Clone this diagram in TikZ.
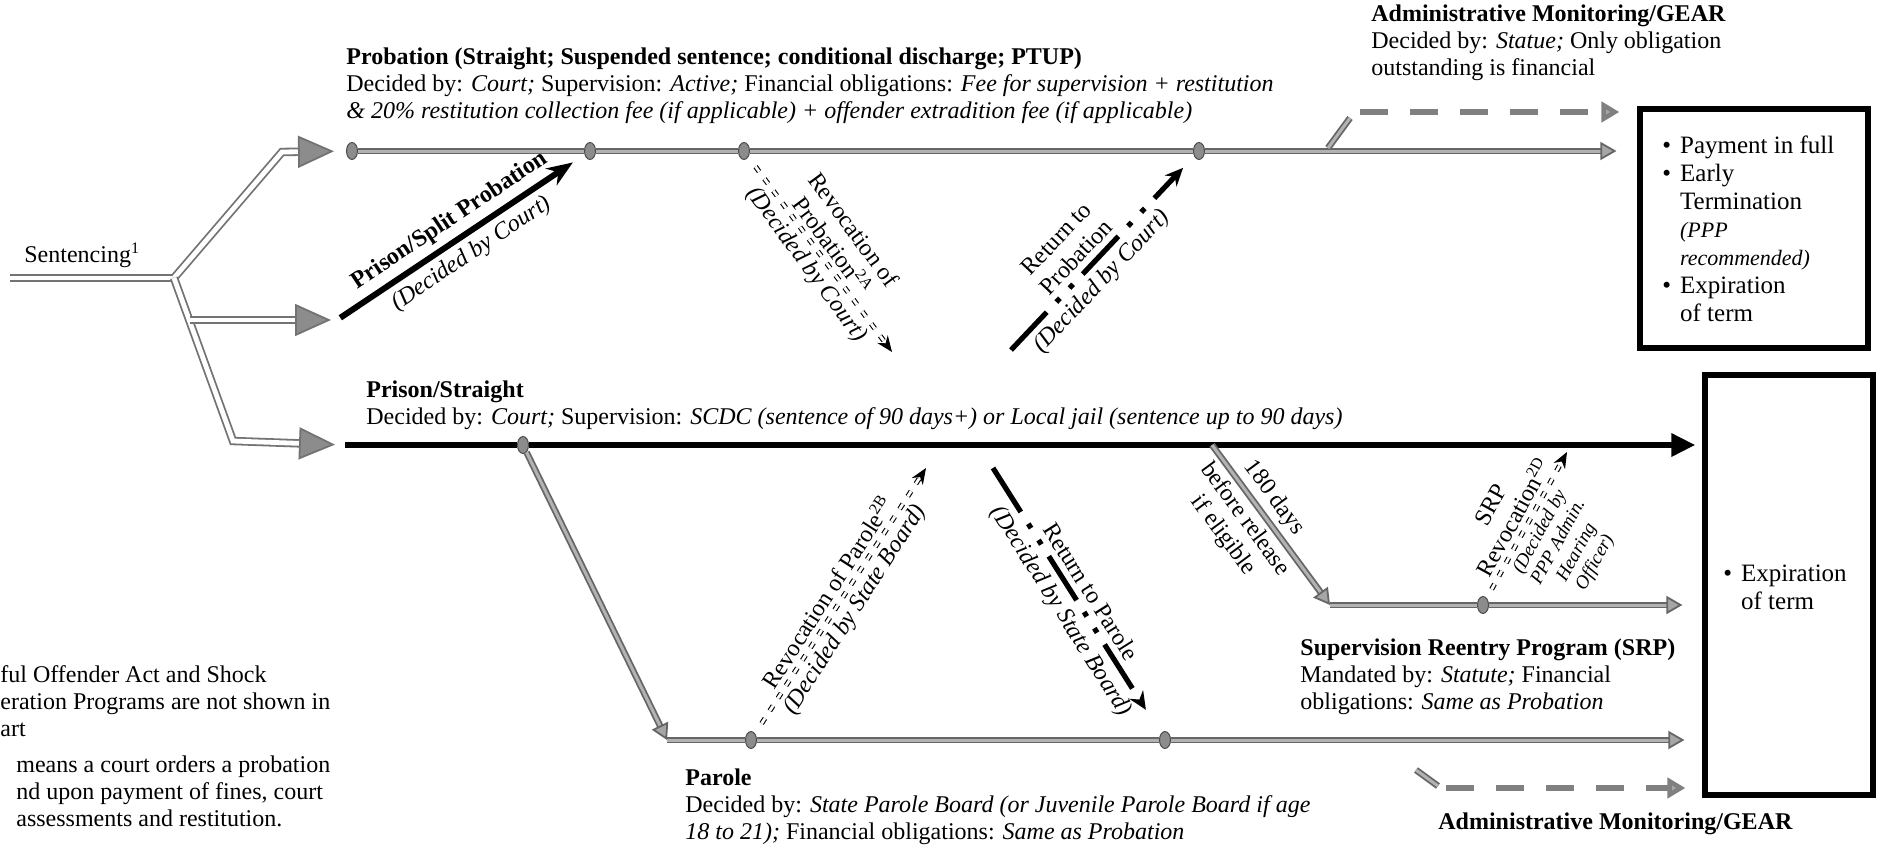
\documentclass[tikz,border=0pt]{standalone}
\usepackage{fontspec}
\setmainfont{Liberation Serif}
\usetikzlibrary{arrows.meta, shapes.geometric, fit}

\begin{document}
\begin{tikzpicture}[
    x=0.5pt, y=-0.5pt,
    font=\fontsize{12}{13.5}\selectfont,
    feed/.style     ={draw=black!55, line width=0.9pt, double=white, double distance=2.4pt},
    feedtip/.style  ={feed, -{Triangle[length=18pt, width=16pt, fill=black!45]}},
    track/.style    ={draw=black!60, line width=0.9pt, double=black!30, double distance=1.5pt},
    tracktip/.style ={track, -{Triangle[length=8pt, width=9pt, fill=black!35]}},
    event/.style    ={ellipse, draw=black!70, fill=black!45, line width=0.5pt,
                      inner sep=0pt, minimum width=5.5pt, minimum height=8.5pt},
    prisonln/.style ={line width=3.3pt, -{Triangle[length=12pt, width=11pt]}},
    court/.style    ={line width=3pt, -{Stealth[length=13pt, width=10pt]}},
    revoke/.style   ={draw, line width=0.55pt, double distance=1.4pt,
                      dash pattern=on 3pt off 4.5pt, -{Stealth[length=8pt, width=6.5pt]}},
    giveback/.style ={line width=2.6pt, dash pattern=on 26pt off 7pt on 2.6pt off 7pt on 2.6pt off 7pt,
                      -{Stealth[length=9pt, width=8pt]}},
    admin/.style    ={draw=black!50, line width=3.4pt, dash pattern=on 14pt off 11pt,
                      -{Triangle[length=9pt, width=10pt, fill=black!35]}},
    endbox/.style   ={draw, line width=2.6pt, inner sep=0pt},
    blurb/.style    ={anchor=north west, align=left, inner sep=0pt},
    tag/.style      ={align=center, inner sep=3pt},
    small/.style    ={font=\fontsize{9.5}{10.5}\selectfont\itshape}
]
\useasboundingbox (0,0) rectangle (1881,851);

% event points on the tracks
\node[event] (p1) at (352,151) {};
\node[event] (p2) at (590,151) {};
\node[event] (p3) at (744,151) {};
\node[event] (p4) at (1199,151) {};
\node[event] (s1) at (523,445) {};
\node[event] (r1) at (751,740) {};
\node[event] (r2) at (1165,740) {};
\node[event] (q1) at (1483,605) {};

% end boxes
\node[endbox, fit={(1640,109) (1868,348)}] (done1) {};
\node[endbox, fit={(1705,375) (1873,795)}] (done2) {};

\node[blurb, font=\fontsize{12.5}{14}\selectfont] (doneTxt1) at (1662,133)
  {\begin{tabular}{@{}l@{\hspace{4.5pt}}l@{}}
   \textbullet & Payment in full\\
   \textbullet & Early\\
               & Termination\\
               & {\fontsize{11}{13}\selectfont\itshape (PPP}\\
               & {\fontsize{11}{13}\selectfont\itshape recommended)}\\
   \textbullet & Expiration\\
               & of term
   \end{tabular}};
\node[blurb, font=\fontsize{12.5}{14}\selectfont] (doneTxt2) at (1723,561)
  {\begin{tabular}{@{}l@{\hspace{4.5pt}}l@{}}
   \textbullet & Expiration\\
               & of term
   \end{tabular}};

% texts
\node[anchor=west, inner sep=0pt] (sent) at (24,255) {Sentencing\textsuperscript{1}};
\node[blurb] (probHead) at (346,47)
  {\textbf{Probation (Straight; Suspended sentence; conditional discharge; PTUP)}\\
   Decided by: \textit{Court;} Supervision: \textit{Active;} Financial obligations: \textit{Fee for supervision + restitution}\\
   \textit{\& 20\% restitution collection fee (if applicable) + offender extradition fee (if applicable)}};
\node[blurb] (adminTop) at (1371,4)
  {\textbf{Administrative Monitoring/GEAR}\\
   Decided by: \textit{Statue;} Only obligation\\
   outstanding is financial};
\node[blurb] (prisonHead) at (366,380)
  {\textbf{Prison/Straight}\\
   Decided by: \textit{Court;} Supervision: \textit{SCDC (sentence of 90 days+) or Local jail (sentence up to 90 days)}};
\node[blurb] (paroleHead) at (685,768)
  {\textbf{Parole}\\
   Decided by: \textit{State Parole Board (or Juvenile Parole Board if age}\\
   \textit{18 to 21);} Financial obligations: \textit{Same as Probation}};
\node[blurb] (srpHead) at (1300,638)
  {\textbf{Supervision Reentry Program (SRP)}\\
   Mandated by: \textit{Statute;} Financial\\
   obligations: \textit{Same as Probation}};
\node[anchor=west, inner sep=0pt] (adminBot) at (1438,824) {\textbf{Administrative Monitoring/GEAR}};
\node[blurb] (footA) at (0,665)
  {ful Offender Act and Shock\\
   eration Programs are not shown in\\
   art};
\node[blurb] (footB) at (16,755)
  {means a court orders a probation\\
   nd upon payment of fines, court\\
   assessments and restitution.};

% free ends
\coordinate (sentL) at (10,278);
\coordinate (fork) at (174,278);
\coordinate (upBend) at (282,152);
\coordinate (lowBend) at (233,441);
\coordinate (midOut) at (190,320);
\coordinate (splitL) at (337,320);
\coordinate (prisonL) at (345,445);
\coordinate (paroleL) at (667,740);
\coordinate (relL) at (1212,445);
\coordinate (srpL) at (1330,605);
\coordinate (adm1) at (1328,148);
\coordinate (adm1b) at (1350,118);
\coordinate (adm1c) at (1360,112);
\coordinate (adm2) at (1416,770);
\coordinate (adm2b) at (1438,786);
\coordinate (adm2c) at (1446,788);
\coordinate (revPtip) at (892,352);
\coordinate (retPL) at (1011,350);
\coordinate (revParTip) at (926,468);
\coordinate (retParL) at (993,468);
\coordinate (srpRevTip) at (1567,452);

% --- sentencing fork ---
\draw[feed] (sentL) -- (fork);
\draw[feedtip, shorten >=6pt] (fork) -- (upBend) -- (p1);
\draw[feedtip, shorten >=5pt] (fork) -- (lowBend) -- (prisonL);
\draw[feedtip, shorten >=3pt] (midOut) -- (splitL);

% --- main tracks ---
\draw[tracktip, shorten >=10.5pt] (p1) -- (p2) -- (p3) -- (p4) -- (done1.west |- p4);
\draw[prisonln, shorten >=3.5pt] (prisonL) -- (s1) -- (done2.west |- s1);
\draw[tracktip] (s1) -- (paroleL);
\draw[tracktip, shorten >=9pt] (paroleL) -- (r1) -- (r2) -- (done2.west |- r2);
\draw[tracktip] (relL) -- (srpL)
  node[pos=0.4, above, sloped] {180 days}
  node[pos=0.4, below, sloped, tag] {before release\\if eligible};
\draw[tracktip, shorten >=10pt] (srpL) -- (q1) -- (done2.west |- q1);

% --- administrative monitoring ---
\draw[track] (adm1) -- (adm1b);
\draw[admin, shorten >=9pt] (adm1c) -- (done1.west |- adm1c);
\draw[track] (adm2) -- (adm2b);
\draw[admin, shorten >=8.5pt] (adm2c) -- (done2.west |- adm2c);

% --- decisions between tracks ---
\draw[court, shorten <=2pt, shorten >=7pt] (splitL) -- (p2)
  node[midway, above, sloped, tag] {\textbf{Prison/Split Probation}}
  node[midway, below, sloped, tag] {\textit{(Decided by Court)}};
\draw[revoke, shorten <=6pt] (p3) -- (revPtip)
  node[midway, above, sloped, tag] {Revocation of\\Probation\textsuperscript{2A}}
  node[midway, below, sloped, tag] {\textit{(Decided by Court)}};
\draw[giveback, shorten >=8pt] (retPL) -- (p4)
  node[pos=0.42, above, sloped, tag] {Return to\\Probation}
  node[pos=0.42, below, sloped, tag] {\textit{(Decided by Court)}};
\draw[revoke, shorten <=6pt] (r1) -- (revParTip)
  node[midway, above, sloped, tag] {Revocation of Parole\textsuperscript{2B}}
  node[midway, below, sloped, tag] {\textit{(Decided by State Board)}};
\draw[giveback, shorten >=14pt] (retParL) -- (r2)
  node[midway, above, sloped, tag] {Return to Parole}
  node[midway, below, sloped, tag] {\textit{(Decided by State Board)}};
\draw[revoke, shorten <=5pt] (q1) -- (srpRevTip)
  node[midway, above, sloped, tag] {SRP\\Revocation\textsuperscript{2D}}
  node[midway, below, sloped, tag, small] {(Decided by\\PPP Admin.\\Hearing\\Officer)};

\end{tikzpicture}
\end{document}
